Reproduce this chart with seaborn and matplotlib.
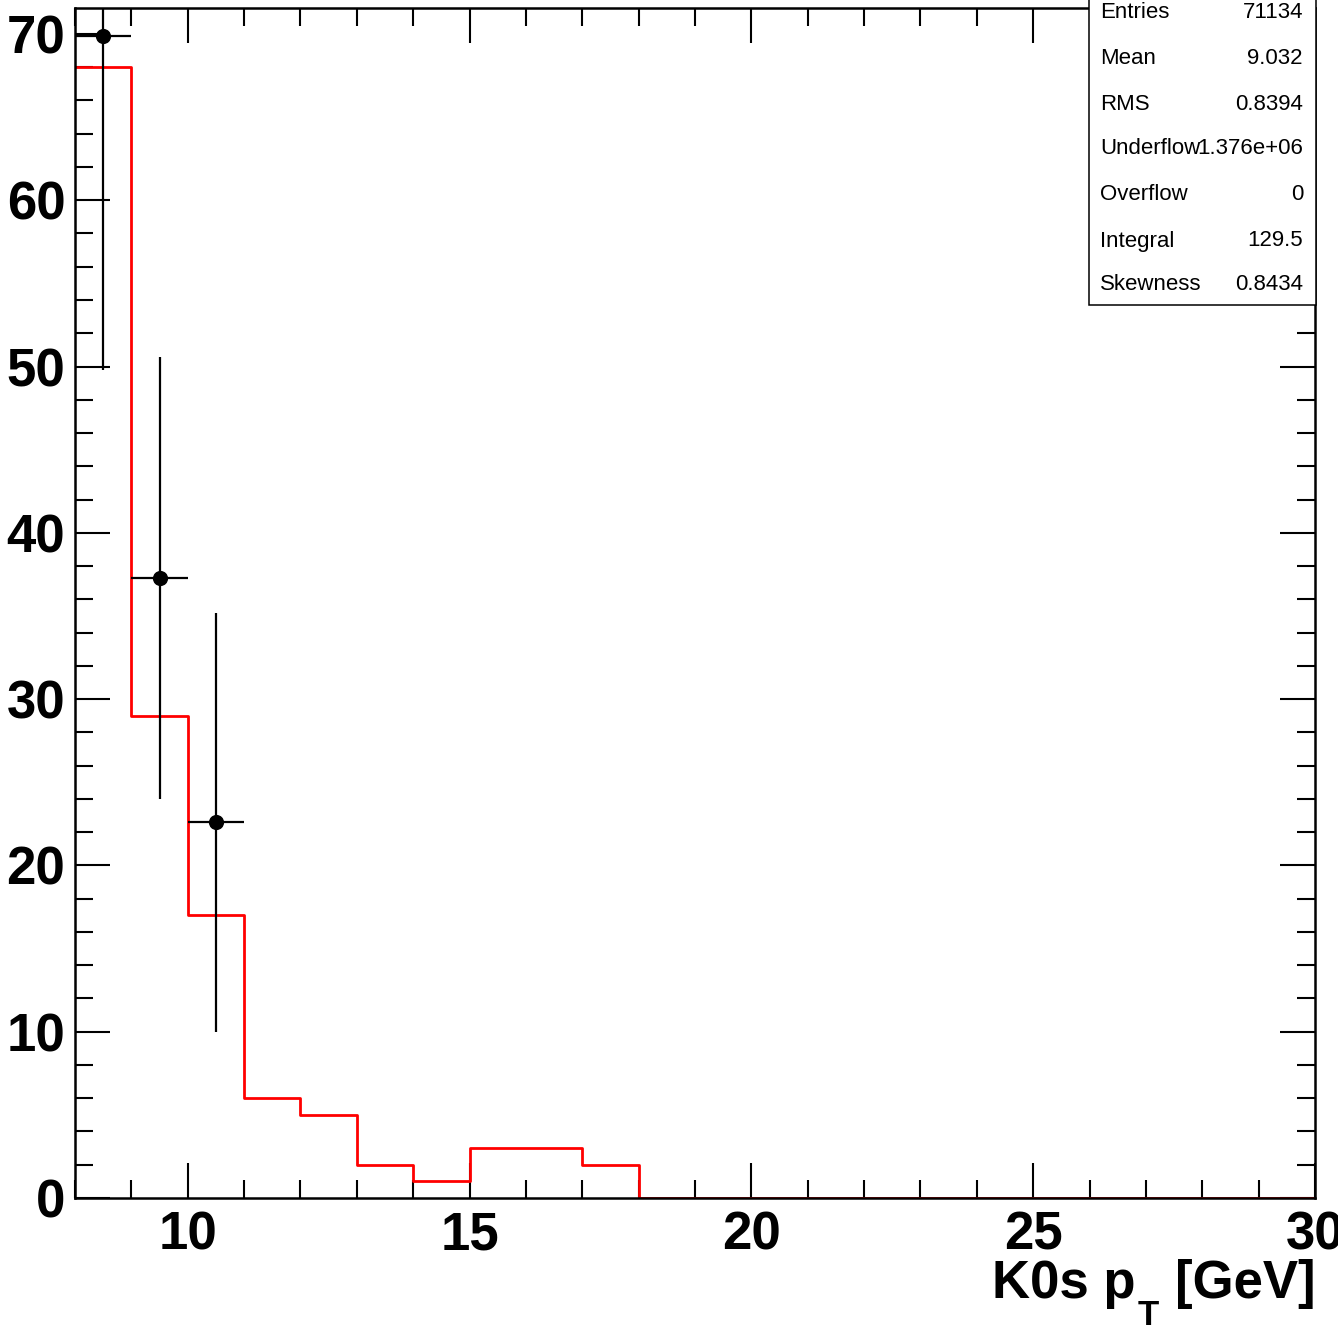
import matplotlib
matplotlib.use("Agg")
import matplotlib.pyplot as plt
import numpy as np
import pandas as pd
import seaborn as sns
from matplotlib.patches import Rectangle
from matplotlib.ticker import MultipleLocator

# K0s pT histogram (red step) and data points with errors
bin_edges = list(range(8, 31))
bin_counts = [68, 29, 17, 6, 5, 2, 1, 3, 3, 2, 0, 0, 0, 0, 0, 0, 0, 0, 0, 0, 0, 0]

point_x = [8.5, 9.5, 10.5]
point_y = [69.9, 37.3, 22.6]
point_xerr = [0.5, 0.5, 0.5]
point_yerr = [20.1, 13.3, 12.6]

x_ticks = [10, 15, 20, 25, 30]
x_tick_labels = ["10", "15", "20", "25", "30"]
y_ticks = [0, 10, 20, 30, 40, 50, 60, 70]
y_tick_labels = ["0", "10", "20", "30", "40", "50", "60", "70"]

stat_names = ["Entries", "Mean", "RMS", "Underflow", "Overflow", "Integral", "Skewness"]
stat_values = ["71134", "9.032", "0.8394", "1.376e+06", "0", "129.5", "0.8434"]

sns.set_theme(style="white", rc={
    "text.color": "black",
    "axes.labelcolor": "black",
    "xtick.color": "black",
    "ytick.color": "black",
    "xtick.bottom": True,
    "ytick.left": True,
})
plt.rcParams["font.family"] = ["Liberation Sans", "DejaVu Sans"]

hist_df = pd.DataFrame({
    "pt": np.array(bin_edges[:-1]) + 0.5,
    "count": bin_counts,
})

W, H = 1338, 1329
fig = plt.figure(figsize=(W / 100, H / 100), dpi=100)
ax = fig.add_axes([75 / W, 131 / H, 1240 / W, 1190 / H])

sns.histplot(
    data=hist_df,
    x="pt",
    weights="count",
    bins=bin_edges,
    element="step",
    fill=False,
    color="red",
    linewidth=2,
    ax=ax,
)
ax.errorbar(point_x, point_y, xerr=point_xerr, yerr=point_yerr,
            fmt="none", ecolor="black", elinewidth=1.6, capsize=0, zorder=3)
sns.scatterplot(x=point_x, y=point_y, color="black", s=120, linewidth=0,
                zorder=4, ax=ax)

ax.set_xlim(8, 30)
ax.set_ylim(0, 71.56)
ax.set_xticks(x_ticks)
ax.set_xticklabels(x_tick_labels, fontsize=38, fontweight="bold")
ax.set_yticks(y_ticks)
ax.set_yticklabels(y_tick_labels, fontsize=38, fontweight="bold")
ax.xaxis.set_minor_locator(MultipleLocator(1))
ax.yaxis.set_minor_locator(MultipleLocator(2))
ax.tick_params(which="both", direction="in", top=True, right=True,
               bottom=True, left=True, color="black", width=1.5)
ax.tick_params(which="major", length=25.5)
ax.tick_params(which="minor", length=13)
ax.tick_params(axis="x", which="major", pad=9)
ax.tick_params(axis="y", which="major", pad=7)
for side in ["left", "right", "top", "bottom"]:
    ax.spines[side].set_color("black")
    ax.spines[side].set_linewidth(1.8)
ax.set_xlabel("")
ax.set_ylabel("")

# x axis title "K0s p_T [GeV]", right aligned, with a low subscript
fig.canvas.draw()
renderer = fig.canvas.get_renderer()
base_y = 1 - 1298 / H
gev = fig.text(1316 / W, base_y, "[GeV]", ha="right", va="baseline",
               fontsize=38, fontweight="bold")
bb = gev.get_window_extent(renderer)
sub = fig.text((bb.x0 - 17) / W, 1 - 1325 / H, "T", ha="right", va="baseline",
               fontsize=25, fontweight="bold")
bb2 = sub.get_window_extent(renderer)
fig.text((bb2.x0 - 2) / W, base_y, "K0s p", ha="right", va="baseline",
         fontsize=38, fontweight="bold")

# stats box
box_left, box_right, box_bottom = 1089, 1316, 305
fig.add_artist(Rectangle((box_left / W, 1 - box_bottom / H),
                         (box_right - box_left) / W, 0.3,
                         transform=fig.transFigure, facecolor="white",
                         edgecolor="black", linewidth=1.1, zorder=5))
row_y = [13, 58, 104, 149, 195, 241, 285]
for name, val, ry in zip(stat_names, stat_values, row_y):
    fig.text(1100 / W, 1 - ry / H, name, fontsize=16, va="center", ha="left", zorder=6)
    fig.text(1303 / W, 1 - ry / H, val, fontsize=16, va="center", ha="right", zorder=6)

fig.savefig("out.png", dpi=100)
